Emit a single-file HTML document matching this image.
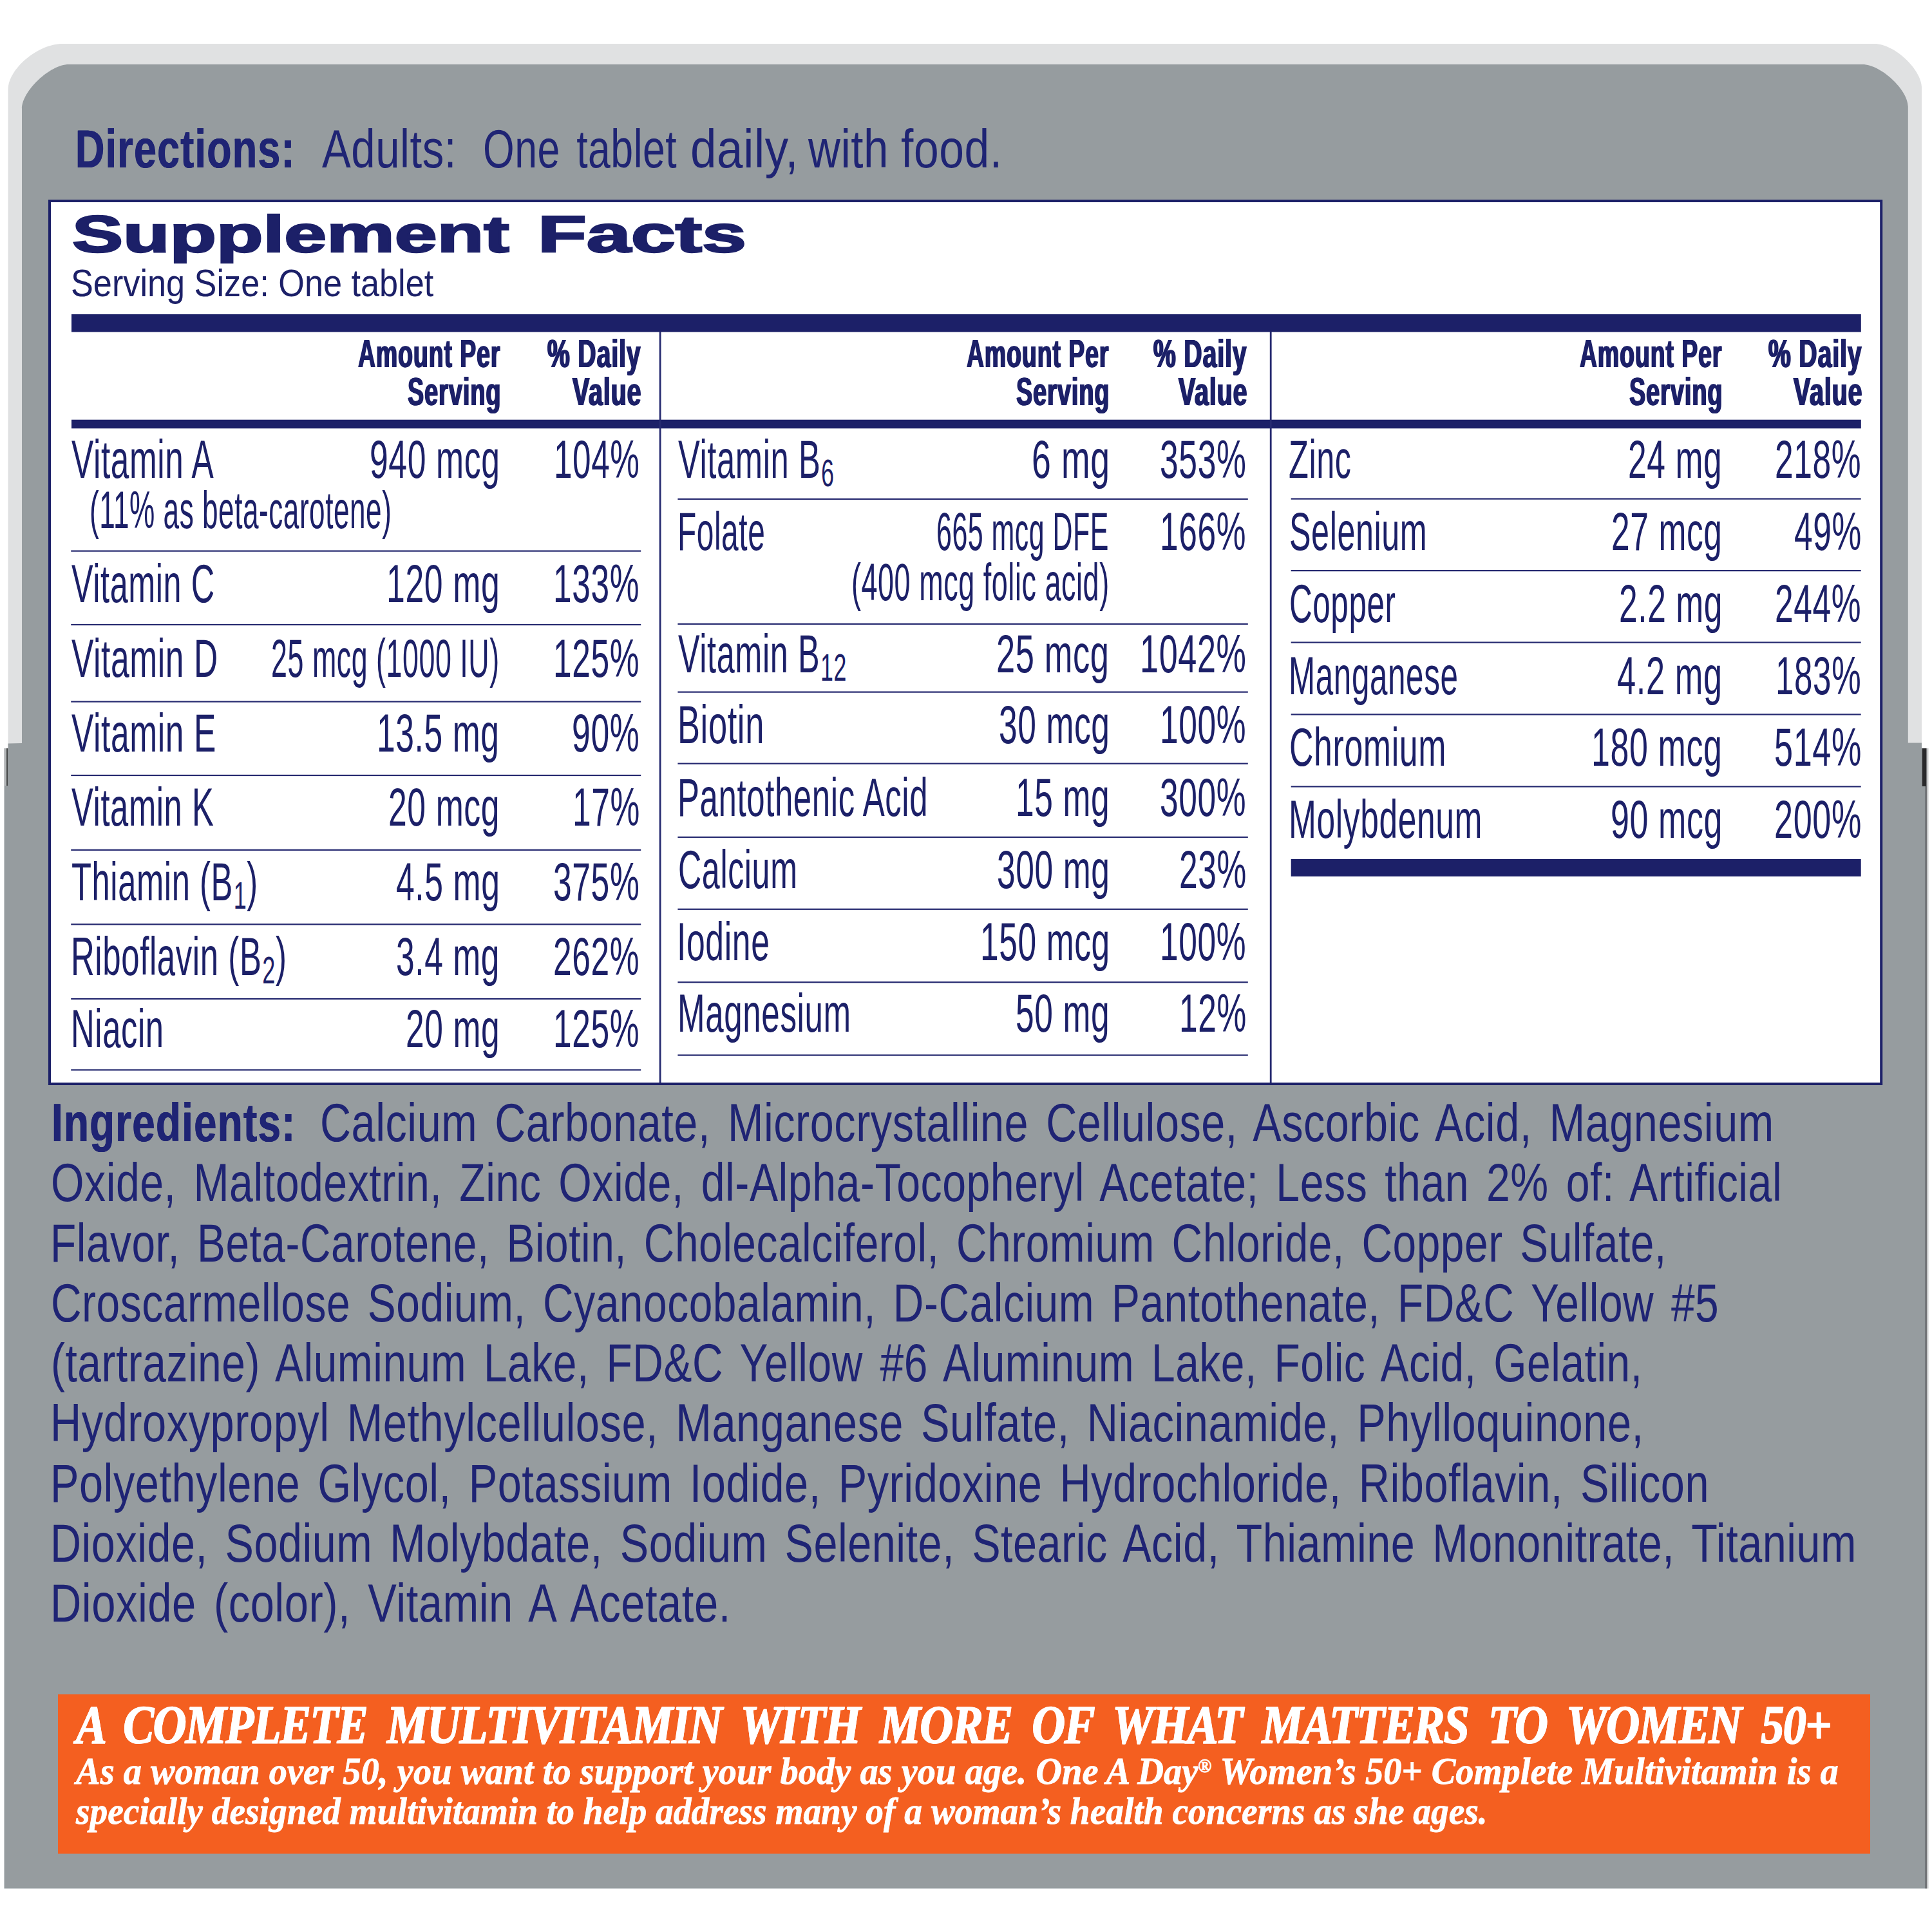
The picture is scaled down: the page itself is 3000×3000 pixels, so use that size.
<!DOCTYPE html>
<html lang="en"><head><meta charset="utf-8"><title>Supplement Facts</title>
<style>
html,body{margin:0;padding:0;background:#fff}
#c{position:relative;width:3000px;height:3000px;overflow:hidden;background:#fff;color:#1c2068}
.t{position:absolute;white-space:nowrap;line-height:1;transform-origin:0 0;margin:0}
.sb{font-size:.71em;position:relative;top:.225em;margin-left:.02em}
.rg{font-size:.5em;position:relative;top:-.62em}
.r{font-family:"Liberation Sans",sans-serif;font-weight:400;}
.b{font-family:"Liberation Sans",sans-serif;font-weight:700;}
.si{font-family:"Liberation Serif",serif;font-weight:700;font-style:italic;}
</style></head>
<body><div id="c">
<svg width="3000" height="3000" viewBox="0 0 3000 3000" style="position:absolute;left:0;top:0">
<path fill="#e0e1e2" d="M12.5 1158 V139 C12.5 107.0 59.0 68.0 97.0 68.0 H2910.6 C2941.4 68.0 2984.0 107.8 2984.0 136.6 V1158 Z"/>
<path fill="#969c9f" d="M34 1154 V169 C34.0 141.4 77.7 100.0 106.8 100.0 H2892 C2920.3 100.0 2962.8 139.4 2962.8 165.6 V1153.5 H2984 V1162 H2990.5 V2932.5 H6.5 V1162 H12.5 V1154.5 Z"/>
<rect x="6.5" y="1162" width="4" height="58" fill="#b5b8ba"/>
<rect x="10.3" y="1162" width="1.4" height="58" fill="#222"/>
<rect x="2990.5" y="1162" width="4" height="1770.5" fill="#c9cbcc"/>
<rect x="2984.8" y="1162" width="6.7" height="59" fill="#2a2a2c"/>
<rect x="2990" y="1221" width="1.6" height="1711.5" fill="#3a3c40"/>
<rect x="77" y="312" width="2844.2" height="1371" fill="#fff" stroke="#1c2068" stroke-width="4"/>
<rect x="111" y="488" width="2778.8" height="27.6" fill="#1c2068"/>
<rect x="111" y="651.7" width="2778.8" height="13.6" fill="#1c2068"/>
<rect x="2004.7" y="1333.9" width="885" height="27" fill="#1c2068"/>
<rect x="1023.7" y="515" width="2.8" height="1166" fill="#262a70"/>
<rect x="1971.8" y="515" width="2.8" height="1166" fill="#262a70"/>
<rect x="110.2" y="854.5" width="885.0" height="2.2" fill="#262a70"/>
<rect x="110.2" y="968.9" width="885.0" height="2.2" fill="#262a70"/>
<rect x="110.2" y="1088.4" width="885.0" height="2.2" fill="#262a70"/>
<rect x="110.2" y="1202.9" width="885.0" height="2.2" fill="#262a70"/>
<rect x="110.2" y="1318.7" width="885.0" height="2.2" fill="#262a70"/>
<rect x="110.2" y="1434.2" width="885.0" height="2.2" fill="#262a70"/>
<rect x="110.2" y="1550.0" width="885.0" height="2.2" fill="#262a70"/>
<rect x="110.2" y="1660.3" width="885.0" height="2.2" fill="#262a70"/>
<rect x="1052.4" y="773.9" width="885.4" height="2.2" fill="#262a70"/>
<rect x="1052.4" y="967.9" width="885.4" height="2.2" fill="#262a70"/>
<rect x="1052.4" y="1073.5" width="885.4" height="2.2" fill="#262a70"/>
<rect x="1052.4" y="1184.6" width="885.4" height="2.2" fill="#262a70"/>
<rect x="1052.4" y="1298.9" width="885.4" height="2.2" fill="#262a70"/>
<rect x="1052.4" y="1410.7" width="885.4" height="2.2" fill="#262a70"/>
<rect x="1052.4" y="1524.1" width="885.4" height="2.2" fill="#262a70"/>
<rect x="1052.4" y="1637.4" width="885.4" height="2.2" fill="#262a70"/>
<rect x="2004.7" y="773.5" width="885.0" height="2.2" fill="#262a70"/>
<rect x="2004.7" y="885.0" width="885.0" height="2.2" fill="#262a70"/>
<rect x="2004.7" y="996.5" width="885.0" height="2.2" fill="#262a70"/>
<rect x="2004.7" y="1108.3" width="885.0" height="2.2" fill="#262a70"/>
<rect x="2004.7" y="1220.3" width="885.0" height="2.2" fill="#262a70"/>
<rect x="90" y="2631" width="2814" height="247.5" fill="#f45f20"/>
</svg>
<span class="t b" style="left:117.24px;top:190px;font-size:83.50px;color:#1f2474;letter-spacing:0.020em;text-shadow:0.60px 0 0 currentColor,-0.60px 0 0 currentColor;transform:scaleX(0.7517)">Directions:</span>
<span class="t r" style="left:500.00px;top:190px;font-size:83.50px;color:#1f2474;letter-spacing:0.008em;word-spacing:0.120em;transform:scaleX(0.8036)">Adults:</span>
<span class="t r" style="left:749.50px;top:190px;font-size:83.50px;color:#1f2474;letter-spacing:0.008em;word-spacing:0.120em;transform:scaleX(0.7494)">One tablet</span>
<span class="t r" style="left:1071.51px;top:190px;font-size:83.50px;color:#1f2474;letter-spacing:0.008em;word-spacing:0.120em;transform:scaleX(0.8722)">daily,</span>
<span class="t r" style="left:1255.00px;top:190px;font-size:83.50px;color:#1f2474;letter-spacing:0.008em;word-spacing:0.120em;transform:scaleX(0.8276)">with</span>
<span class="t r" style="left:1399.17px;top:190px;font-size:83.50px;color:#1f2474;letter-spacing:0.008em;word-spacing:0.120em;transform:scaleX(0.8333)">food.</span>
<span class="t b" style="left:111.50px;top:324px;font-size:79.00px;-webkit-text-stroke:2.50px currentColor;transform:scaleX(1.5011)">Supplement</span>
<span class="t b" style="left:834.72px;top:324px;font-size:79.00px;-webkit-text-stroke:2.50px currentColor;transform:scaleX(1.5700)">Facts</span>
<span class="t r" style="left:109.67px;top:410px;font-size:59.50px;transform:scaleX(0.8779)">Serving Size: One tablet</span>
<span class="t b" style="left:555.50px;top:518px;font-size:61.60px;letter-spacing:0.025em;text-shadow:1.40px 0 0 currentColor,-1.40px 0 0 currentColor;transform:scaleX(0.6074)">Amount Per</span>
<span class="t b" style="left:633.00px;top:577px;font-size:61.60px;letter-spacing:0.025em;text-shadow:1.40px 0 0 currentColor,-1.40px 0 0 currentColor;transform:scaleX(0.6142)">Serving</span>
<span class="t b" style="left:849.70px;top:518px;font-size:61.60px;letter-spacing:0.025em;text-shadow:1.40px 0 0 currentColor,-1.40px 0 0 currentColor;transform:scaleX(0.6332)">% Daily</span>
<span class="t b" style="left:888.84px;top:577px;font-size:61.60px;letter-spacing:0.025em;text-shadow:1.40px 0 0 currentColor,-1.40px 0 0 currentColor;transform:scaleX(0.6377)">Value</span>
<span class="t b" style="left:1500.70px;top:518px;font-size:61.60px;letter-spacing:0.025em;text-shadow:1.40px 0 0 currentColor,-1.40px 0 0 currentColor;transform:scaleX(0.6074)">Amount Per</span>
<span class="t b" style="left:1578.20px;top:577px;font-size:61.60px;letter-spacing:0.025em;text-shadow:1.40px 0 0 currentColor,-1.40px 0 0 currentColor;transform:scaleX(0.6142)">Serving</span>
<span class="t b" style="left:1791.00px;top:518px;font-size:61.60px;letter-spacing:0.025em;text-shadow:1.40px 0 0 currentColor,-1.40px 0 0 currentColor;transform:scaleX(0.6332)">% Daily</span>
<span class="t b" style="left:1830.14px;top:577px;font-size:61.60px;letter-spacing:0.025em;text-shadow:1.40px 0 0 currentColor,-1.40px 0 0 currentColor;transform:scaleX(0.6377)">Value</span>
<span class="t b" style="left:2452.50px;top:518px;font-size:61.60px;letter-spacing:0.025em;text-shadow:1.40px 0 0 currentColor,-1.40px 0 0 currentColor;transform:scaleX(0.6074)">Amount Per</span>
<span class="t b" style="left:2530.00px;top:577px;font-size:61.60px;letter-spacing:0.025em;text-shadow:1.40px 0 0 currentColor,-1.40px 0 0 currentColor;transform:scaleX(0.6142)">Serving</span>
<span class="t b" style="left:2746.20px;top:518px;font-size:61.60px;letter-spacing:0.025em;text-shadow:1.40px 0 0 currentColor,-1.40px 0 0 currentColor;transform:scaleX(0.6332)">% Daily</span>
<span class="t b" style="left:2785.34px;top:577px;font-size:61.60px;letter-spacing:0.025em;text-shadow:1.40px 0 0 currentColor,-1.40px 0 0 currentColor;transform:scaleX(0.6377)">Value</span>
<span class="t r" style="left:111.19px;top:672px;font-size:83.60px;letter-spacing:0.012em;transform:scaleX(0.6134)">Vitamin A</span>
<span class="t r" style="left:573.83px;top:672px;font-size:83.60px;letter-spacing:0.012em;transform:scaleX(0.6180)">940 mcg</span>
<span class="t r" style="left:859.82px;top:672px;font-size:83.60px;letter-spacing:0.012em;transform:scaleX(0.6130)">104%</span>
<span class="t r" style="left:111.20px;top:865px;font-size:83.60px;letter-spacing:0.012em;transform:scaleX(0.6022)">Vitamin C</span>
<span class="t r" style="left:600.09px;top:865px;font-size:83.60px;letter-spacing:0.012em;transform:scaleX(0.6191)">120 mg</span>
<span class="t r" style="left:859.31px;top:865px;font-size:83.60px;letter-spacing:0.012em;transform:scaleX(0.6154)">133%</span>
<span class="t r" style="left:111.18px;top:981px;font-size:83.60px;letter-spacing:0.012em;transform:scaleX(0.6160)">Vitamin D</span>
<span class="t r" style="left:420.66px;top:981px;font-size:83.60px;letter-spacing:0.012em;transform:scaleX(0.5359)">25 mcg (1000 IU)</span>
<span class="t r" style="left:859.18px;top:981px;font-size:83.60px;letter-spacing:0.012em;transform:scaleX(0.6160)">125%</span>
<span class="t r" style="left:111.18px;top:1097px;font-size:83.60px;letter-spacing:0.012em;transform:scaleX(0.6160)">Vitamin E</span>
<span class="t r" style="left:585.30px;top:1097px;font-size:83.60px;letter-spacing:0.012em;transform:scaleX(0.6168)">13.5 mg</span>
<span class="t r" style="left:888.33px;top:1097px;font-size:83.60px;letter-spacing:0.012em;transform:scaleX(0.6185)">90%</span>
<span class="t r" style="left:111.19px;top:1212px;font-size:83.60px;letter-spacing:0.012em;transform:scaleX(0.6066)">Vitamin K</span>
<span class="t r" style="left:602.93px;top:1212px;font-size:83.60px;letter-spacing:0.012em;transform:scaleX(0.6178)">20 mcg</span>
<span class="t r" style="left:888.70px;top:1212px;font-size:83.60px;letter-spacing:0.012em;transform:scaleX(0.6163)">17%</span>
<span class="t r" style="left:110.59px;top:1328px;font-size:83.60px;letter-spacing:0.012em;transform:scaleX(0.6060)">Thiamin (B<span class="sb">1</span>)</span>
<span class="t r" style="left:614.66px;top:1328px;font-size:83.60px;letter-spacing:0.012em;transform:scaleX(0.6178)">4.5 mg</span>
<span class="t r" style="left:858.95px;top:1328px;font-size:83.60px;letter-spacing:0.012em;transform:scaleX(0.6171)">375%</span>
<span class="t r" style="left:109.74px;top:1444px;font-size:83.60px;letter-spacing:0.012em;transform:scaleX(0.6089)">Riboflavin (B<span class="sb">2</span>)</span>
<span class="t r" style="left:615.12px;top:1444px;font-size:83.60px;letter-spacing:0.012em;transform:scaleX(0.6160)">3.4 mg</span>
<span class="t r" style="left:859.18px;top:1444px;font-size:83.60px;letter-spacing:0.012em;transform:scaleX(0.6160)">262%</span>
<span class="t r" style="left:109.75px;top:1556px;font-size:83.60px;letter-spacing:0.012em;transform:scaleX(0.6071)">Niacin</span>
<span class="t r" style="left:629.90px;top:1556px;font-size:83.60px;letter-spacing:0.012em;transform:scaleX(0.6160)">20 mg</span>
<span class="t r" style="left:859.18px;top:1556px;font-size:83.60px;letter-spacing:0.012em;transform:scaleX(0.6160)">125%</span>
<span class="t r" style="left:139.28px;top:752px;font-size:81.09px;letter-spacing:0.012em;transform:scaleX(0.5441)">(11% as beta-carotene)</span>
<span class="t r" style="left:1053.39px;top:672px;font-size:83.60px;letter-spacing:0.012em;transform:scaleX(0.6061)">Vitamin B<span class="sb">6</span></span>
<span class="t r" style="left:1602.04px;top:672px;font-size:83.60px;letter-spacing:0.012em;transform:scaleX(0.6408)">6 mg</span>
<span class="t r" style="left:1800.85px;top:672px;font-size:83.60px;letter-spacing:0.012em;transform:scaleX(0.6175)">353%</span>
<span class="t r" style="left:1052.20px;top:784px;font-size:83.60px;letter-spacing:0.012em;transform:scaleX(0.5718)">Folate</span>
<span class="t r" style="left:1453.95px;top:784px;font-size:83.60px;letter-spacing:0.012em;transform:scaleX(0.5133)">665 mcg DFE</span>
<span class="t r" style="left:1801.31px;top:784px;font-size:83.60px;letter-spacing:0.012em;transform:scaleX(0.6154)">166%</span>
<span class="t r" style="left:1053.40px;top:974px;font-size:83.60px;letter-spacing:0.012em;transform:scaleX(0.6030)">Vitamin B<span class="sb">12</span></span>
<span class="t r" style="left:1547.49px;top:974px;font-size:83.60px;letter-spacing:0.012em;transform:scaleX(0.6270)">25 mcg</span>
<span class="t r" style="left:1770.16px;top:974px;font-size:83.60px;letter-spacing:0.012em;transform:scaleX(0.6239)">1042%</span>
<span class="t r" style="left:1051.81px;top:1084px;font-size:83.60px;letter-spacing:0.012em;transform:scaleX(0.6272)">Biotin</span>
<span class="t r" style="left:1550.52px;top:1084px;font-size:83.60px;letter-spacing:0.012em;transform:scaleX(0.6160)">30 mcg</span>
<span class="t r" style="left:1801.18px;top:1084px;font-size:83.60px;letter-spacing:0.012em;transform:scaleX(0.6160)">100%</span>
<span class="t r" style="left:1051.94px;top:1197px;font-size:83.60px;letter-spacing:0.012em;transform:scaleX(0.6093)">Pantothenic Acid</span>
<span class="t r" style="left:1577.00px;top:1197px;font-size:83.60px;letter-spacing:0.012em;transform:scaleX(0.6160)">15 mg</span>
<span class="t r" style="left:1801.18px;top:1197px;font-size:83.60px;letter-spacing:0.012em;transform:scaleX(0.6160)">300%</span>
<span class="t r" style="left:1052.60px;top:1309px;font-size:83.60px;letter-spacing:0.012em;transform:scaleX(0.6007)">Calcium</span>
<span class="t r" style="left:1548.05px;top:1309px;font-size:83.60px;letter-spacing:0.012em;transform:scaleX(0.6160)">300 mg</span>
<span class="t r" style="left:1830.74px;top:1309px;font-size:83.60px;letter-spacing:0.012em;transform:scaleX(0.6160)">23%</span>
<span class="t r" style="left:1051.26px;top:1421px;font-size:83.60px;letter-spacing:0.012em;transform:scaleX(0.6181)">Iodine</span>
<span class="t r" style="left:1521.56px;top:1421px;font-size:83.60px;letter-spacing:0.012em;transform:scaleX(0.6160)">150 mcg</span>
<span class="t r" style="left:1801.18px;top:1421px;font-size:83.60px;letter-spacing:0.012em;transform:scaleX(0.6160)">100%</span>
<span class="t r" style="left:1051.92px;top:1532px;font-size:83.60px;letter-spacing:0.012em;transform:scaleX(0.6117)">Magnesium</span>
<span class="t r" style="left:1577.00px;top:1532px;font-size:83.60px;letter-spacing:0.012em;transform:scaleX(0.6160)">50 mg</span>
<span class="t r" style="left:1830.74px;top:1532px;font-size:83.60px;letter-spacing:0.012em;transform:scaleX(0.6160)">12%</span>
<span class="t r" style="left:1322.23px;top:864px;font-size:81.09px;letter-spacing:0.012em;transform:scaleX(0.5546)">(400 mcg folic acid)</span>
<span class="t r" style="left:2001.49px;top:672px;font-size:83.60px;letter-spacing:0.012em;transform:scaleX(0.6032)">Zinc</span>
<span class="t r" style="left:2528.40px;top:672px;font-size:83.60px;letter-spacing:0.012em;transform:scaleX(0.6160)">24 mg</span>
<span class="t r" style="left:2756.18px;top:672px;font-size:83.60px;letter-spacing:0.012em;transform:scaleX(0.6160)">218%</span>
<span class="t r" style="left:2001.90px;top:784px;font-size:83.60px;letter-spacing:0.012em;transform:scaleX(0.6012)">Selenium</span>
<span class="t r" style="left:2501.92px;top:784px;font-size:83.60px;letter-spacing:0.012em;transform:scaleX(0.6160)">27 mcg</span>
<span class="t r" style="left:2785.74px;top:784px;font-size:83.60px;letter-spacing:0.012em;transform:scaleX(0.6160)">49%</span>
<span class="t r" style="left:2001.94px;top:896px;font-size:83.60px;letter-spacing:0.012em;transform:scaleX(0.5912)">Copper</span>
<span class="t r" style="left:2513.62px;top:896px;font-size:83.60px;letter-spacing:0.012em;transform:scaleX(0.6160)">2.2 mg</span>
<span class="t r" style="left:2756.18px;top:896px;font-size:83.60px;letter-spacing:0.012em;transform:scaleX(0.6160)">244%</span>
<span class="t r" style="left:2001.36px;top:1008px;font-size:83.60px;letter-spacing:0.012em;transform:scaleX(0.5910)">Manganese</span>
<span class="t r" style="left:2511.15px;top:1008px;font-size:83.60px;letter-spacing:0.012em;transform:scaleX(0.6257)">4.2 mg</span>
<span class="t r" style="left:2757.13px;top:1008px;font-size:83.60px;letter-spacing:0.012em;transform:scaleX(0.6115)">183%</span>
<span class="t r" style="left:2001.82px;top:1119px;font-size:83.60px;letter-spacing:0.012em;transform:scaleX(0.6201)">Chromium</span>
<span class="t r" style="left:2471.27px;top:1119px;font-size:83.60px;letter-spacing:0.012em;transform:scaleX(0.6213)">180 mcg</span>
<span class="t r" style="left:2754.50px;top:1119px;font-size:83.60px;letter-spacing:0.012em;transform:scaleX(0.6238)">514%</span>
<span class="t r" style="left:2001.19px;top:1231px;font-size:83.60px;letter-spacing:0.012em;transform:scaleX(0.6160)">Molybdenum</span>
<span class="t r" style="left:2500.52px;top:1231px;font-size:83.60px;letter-spacing:0.012em;transform:scaleX(0.6211)">90 mcg</span>
<span class="t r" style="left:2754.50px;top:1231px;font-size:83.60px;letter-spacing:0.012em;transform:scaleX(0.6238)">200%</span>
<span class="t b" style="left:79.69px;top:1702px;font-size:83.50px;color:#1f2474;letter-spacing:0.020em;text-shadow:0.60px 0 0 currentColor,-0.60px 0 0 currentColor;transform:scaleX(0.7624)">Ingredients:</span>
<span class="t r" style="left:496.81px;top:1702px;font-size:83.50px;color:#1f2474;letter-spacing:0.008em;word-spacing:0.120em;transform:scaleX(0.7973)">Calcium Carbonate, Microcrystalline Cellulose, Ascorbic Acid, Magnesium</span>
<span class="t r" style="left:79.33px;top:1795px;font-size:83.50px;color:#1f2474;letter-spacing:0.008em;word-spacing:0.120em;transform:scaleX(0.7930)">Oxide, Maltodextrin, Zinc Oxide, dl-Alpha-Tocopheryl Acetate; Less than 2% of: Artificial</span>
<span class="t r" style="left:78.48px;top:1889px;font-size:83.50px;color:#1f2474;letter-spacing:0.008em;word-spacing:0.120em;transform:scaleX(0.7884)">Flavor, Beta-Carotene, Biotin, Cholecalciferol, Chromium Chloride, Copper Sulfate,</span>
<span class="t r" style="left:79.34px;top:1982px;font-size:83.50px;color:#1f2474;letter-spacing:0.008em;word-spacing:0.120em;transform:scaleX(0.7892)">Croscarmellose Sodium, Cyanocobalamin, D-Calcium Pantothenate, FD&amp;C Yellow #5</span>
<span class="t r" style="left:78.55px;top:2075px;font-size:83.50px;color:#1f2474;letter-spacing:0.008em;word-spacing:0.120em;transform:scaleX(0.7892)">(tartrazine) Aluminum Lake, FD&amp;C Yellow #6 Aluminum Lake, Folic Acid, Gelatin,</span>
<span class="t r" style="left:78.40px;top:2168px;font-size:83.50px;color:#1f2474;letter-spacing:0.008em;word-spacing:0.120em;transform:scaleX(0.7995)">Hydroxypropyl Methylcellulose, Manganese Sulfate, Niacinamide, Phylloquinone,</span>
<span class="t r" style="left:78.41px;top:2262px;font-size:83.50px;color:#1f2474;letter-spacing:0.008em;word-spacing:0.120em;transform:scaleX(0.7984)">Polyethylene Glycol, Potassium Iodide, Pyridoxine Hydrochloride, Riboflavin, Silicon</span>
<span class="t r" style="left:78.42px;top:2355px;font-size:83.50px;color:#1f2474;letter-spacing:0.008em;word-spacing:0.120em;transform:scaleX(0.7965)">Dioxide, Sodium Molybdate, Sodium Selenite, Stearic Acid, Thiamine Mononitrate, Titanium</span>
<span class="t r" style="left:78.39px;top:2448px;font-size:83.50px;color:#1f2474;letter-spacing:0.008em;word-spacing:0.120em;transform:scaleX(0.8008)">Dioxide (color), Vitamin A Acetate.</span>
<span class="t si" style="left:118.42px;top:2636px;font-size:85.00px;color:#ffffff;letter-spacing:-0.020em;word-spacing:0.200em;text-shadow:1.00px 0 0 currentColor,-1.00px 0 0 currentColor;-webkit-text-stroke:1.50px currentColor;transform:scaleX(0.8434)">A COMPLETE MULTIVITAMIN WITH MORE OF WHAT MATTERS TO WOMEN 50+</span>
<span class="t si" style="left:118.40px;top:2722px;font-size:58.50px;color:#ffffff;-webkit-text-stroke:0.80px currentColor;transform:scaleX(0.9653)">As a woman over 50, you want to support your body as you age. One A Day<span class="rg">&reg;</span> Women&rsquo;s 50+ Complete Multivitamin is a</span>
<span class="t si" style="left:117.75px;top:2784px;font-size:58.50px;color:#ffffff;-webkit-text-stroke:0.80px currentColor;transform:scaleX(0.9469)">specially designed multivitamin to help address many of a woman&rsquo;s health concerns as she ages.</span>
</div></body></html>
